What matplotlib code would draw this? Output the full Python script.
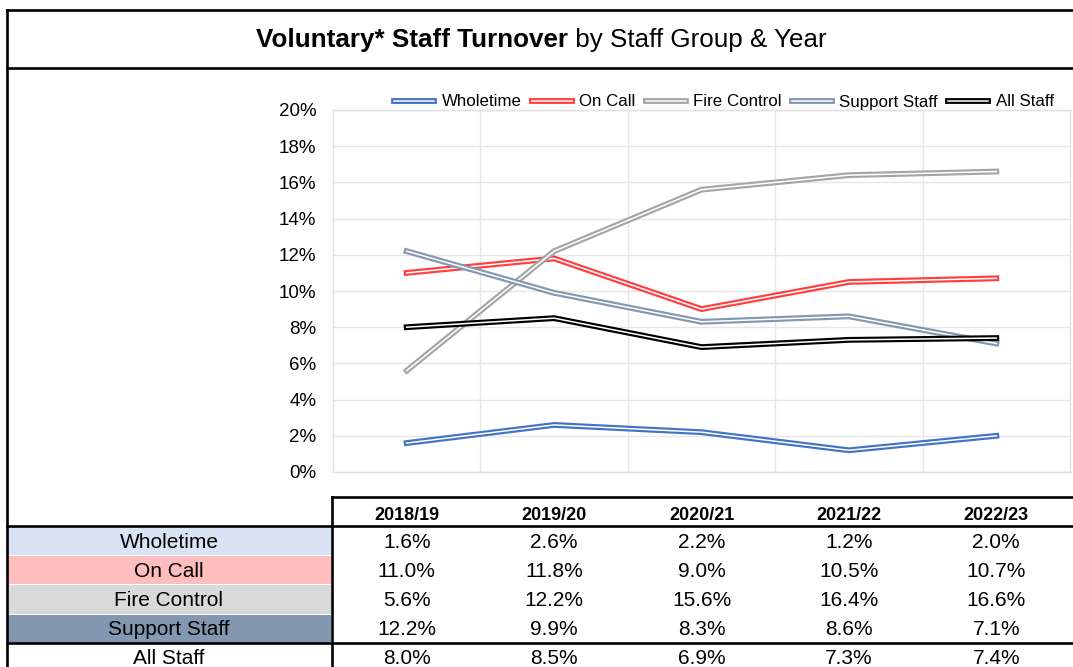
import numpy as np
import matplotlib.pyplot as plt
import matplotlib.patheffects as pe
from matplotlib.transforms import blended_transform_factory

plt.rcParams['font.family'] = ['Liberation Sans', 'DejaVu Sans']

years = ['2018/19', '2019/20', '2020/21', '2021/22', '2022/23']
groups = ['Wholetime', 'On Call', 'Fire Control', 'Support Staff', 'All Staff']
wholetime = [1.6, 2.6, 2.2, 1.2, 2.0]
on_call = [11.0, 11.8, 9.0, 10.5, 10.7]
fire_control = [5.6, 12.2, 15.6, 16.4, 16.6]
support_staff = [12.2, 9.9, 8.3, 8.6, 7.1]
all_staff = [8.0, 8.5, 6.9, 7.3, 7.4]
series = [wholetime, on_call, fire_control, support_staff, all_staff]

line_colors = ['#4472C4', '#FF3F3F', '#A5A5A5', '#8497B0', '#000000']
row_fills = ['#DAE3F3', '#FFBDBD', '#D9D9D9', '#8497B0', '#FFFFFF']

W, H = 1073, 667
fig = plt.figure(figsize=(W / 100, H / 100), dpi=100)

# pixel-space overlay for the frame and the data table
frame = fig.add_axes([0, 0, 1, 1])
frame.set_xlim(0, W)
frame.set_ylim(H, 0)
frame.axis('off')

ax = fig.add_axes([333 / W, 1 - 472 / H, (1070 - 333) / W, (472 - 110) / H])
x = np.arange(len(years))
for vals, name, col in zip(series, groups, line_colors):
    ax.plot(x, vals, color='white', lw=1.1, label=name, solid_joinstyle='miter',
            path_effects=[pe.Stroke(linewidth=4.2, foreground=col), pe.Normal()])

ax.set_xlim(-0.5, len(years) - 0.5)
ax.set_ylim(0, 20)
ax.set_yticks(np.arange(0, 21, 2))
ax.set_yticklabels([f'{v}%' for v in range(0, 21, 2)], fontsize=13.5)
ax.set_xticks([])
ax.set_xticks(np.arange(0.5, len(years) - 0.5), minor=True)
ax.tick_params(axis='both', which='both', length=0, pad=12)
ax.grid(True, which='major', axis='y', color='#E6E6E6', lw=1)
ax.grid(True, which='minor', axis='x', color='#E6E6E6', lw=1)
for s in ax.spines.values():
    s.set_color('#E0E0E0')
    s.set_linewidth(1)

ax.legend(loc='center', bbox_to_anchor=(724 / W, 1 - 102 / H), bbox_transform=fig.transFigure,
          ncol=5, frameon=False, fontsize=12.2, handlelength=2.35, handletextpad=0.45,
          columnspacing=0.6, borderaxespad=0, borderpad=0)

# title box
lw = 1.9
frame.plot([7, W], [10, 10], color='black', lw=lw)
frame.plot([7, W], [68, 68], color='black', lw=lw)
frame.plot([7, 7], [10, H], color='black', lw=lw)

# two-part title: bold lead followed by plain text, centred as one line
t1 = frame.text(0, 40, 'Voluntary* Staff Turnover', fontsize=18.7, fontweight='bold', va='center', ha='left')
t2 = frame.text(0, 40, ' by Staff Group & Year', fontsize=18.7, va='center', ha='left')
renderer = fig.canvas.get_renderer()
w1 = t1.get_window_extent(renderer).width
w2 = t2.get_window_extent(renderer).width
x0 = 541 - (w1 + w2) / 2
t1.set_x(x0)
t2.set_x(x0 + w1)

# data table below the chart, columns follow the chart categories
colx = blended_transform_factory(ax.transData, frame.transData)
top, head_bot, row_h = 497, 526, 29.2
frame.plot([332, W], [top, top], color='black', lw=lw)
frame.plot([332, 332], [top, H], color='black', lw=lw)
frame.plot([7, W], [head_bot, head_bot], color='black', lw=lw)
frame.plot([7, W], [head_bot + 4 * row_h, head_bot + 4 * row_h], color='black', lw=lw)
for i, yr in enumerate(years):
    frame.text(i, 515, yr, transform=colx, ha='center', va='center', fontsize=13, fontweight='bold')
for r, (name, vals, fill) in enumerate(zip(groups, series, row_fills)):
    y0 = head_bot + r * row_h
    frame.add_patch(plt.Rectangle((8, y0 + 1), 323, row_h - 1, color=fill, lw=0, zorder=0))
    yc = y0 + row_h / 2 + 1.5
    frame.text(169, yc, name, ha='center', va='center', fontsize=15)
    for i, v in enumerate(vals):
        frame.text(i, yc, f'{v:.1f}%', transform=colx, ha='center', va='center', fontsize=15)

fig.savefig('out.png', dpi=100)
